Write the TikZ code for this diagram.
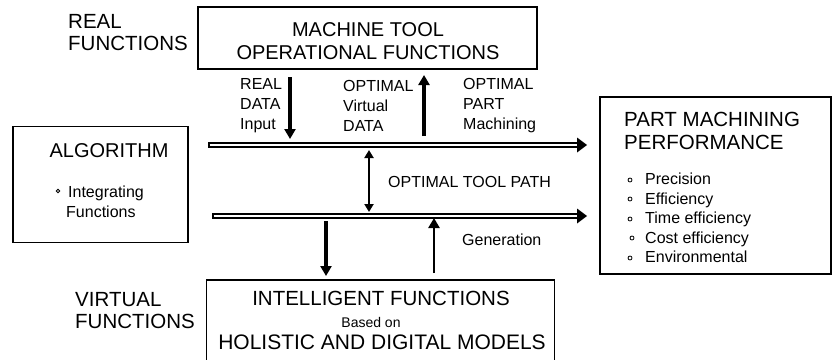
\documentclass[tikz,border=0pt]{standalone}
\usepackage{fontspec}
\setmainfont{Liberation Sans}
\usetikzlibrary{arrows.meta}
\begin{document}
\begin{tikzpicture}[x=1pt,y=-1pt,
  box/.style={draw, line width=1.2pt, inner sep=0pt},
  big/.style={font=\fontsize{20}{23}\selectfont, inner sep=0pt, align=center},
  bigl/.style={font=\fontsize{20.5}{22}\selectfont, inner sep=0pt, align=left, anchor=west},
  lab/.style={font=\fontsize{16}{20}\selectfont, inner sep=0pt, align=left, anchor=west},
  arr/.style={line width=3.2pt, -{Triangle[length=10pt,width=11pt]}},
  tarr/.style={line width=2.2pt, {Triangle[length=8pt,width=9pt]}-{Triangle[length=8pt,width=9pt]}},
  dblout/.style={line width=5.6pt, shorten >=9pt},
  dblin/.style={white, line width=1.8pt, shorten <=1.6pt, shorten >=9pt},
  bul/.style={circle, draw, line width=0.8pt, inner sep=0pt, minimum size=4pt}
]
\clip (0,0) rectangle (832,359);
\fill[white] (0,0) rectangle (832,359);

% boxes
\node[box, minimum width=339pt, minimum height=62pt] (mt) at (367.5,38) {};
\node[box, minimum width=175pt, minimum height=116pt] (alg) at (100.5,184.5) {};
\node[box, minimum width=231pt, minimum height=177pt] (pm) at (715.5,185.5) {};
\node[box, minimum width=348pt, minimum height=100pt] (ifb) at (380.5,330) {};

% texts
\node[bigl] (realf) at (68,33) {REAL\\FUNCTIONS};
\node[big] (mttext) at (368,41) {MACHINE TOOL\\OPERATIONAL FUNCTIONS};
\node[lab] (realdata) at (240,106) {REAL\\DATA\\Input};
\node[lab] (optvirt) at (343,106) {OPTIMAL\\Virtual\\DATA};
\node[lab] (optpart) at (463,106) {OPTIMAL\\PART\\Machining};
\node[font=\fontsize{20}{23}\selectfont, inner sep=0pt] (algt) at (109,151) {ALGORITHM};
\node[bul, minimum size=3.5pt] (b0) at (58,191) {};
\node[lab] (integ) at (66,202) {\hspace{2pt}Integrating\\Functions};
\node[lab] (otp) at (388,182) {OPTIMAL TOOL PATH};
\node[lab] (gen) at (462,240) {Generation};
\node[bigl] (virtf) at (75,311) {VIRTUAL\\FUNCTIONS};
\node[font=\fontsize{20.5}{23}\selectfont, inner sep=0pt] (ift) at (381,298) {INTELLIGENT FUNCTIONS};
\node[font=\fontsize{14}{16}\selectfont, inner sep=0pt] (based) at (371,322) {Based on};
\node[font=\fontsize{21}{23}\selectfont, inner sep=0pt] (hol) at (382,342) {HOLISTIC AND DIGITAL MODELS};
\node[bigl, font=\fontsize{20.5}{23.5}\selectfont] (pmt) at (624,131) {PART MACHINING\\PERFORMANCE};
\node[lab, font=\fontsize{16}{19.5}\selectfont] (list) at (645,218) {Precision\\Efficiency\\Time efficiency\\Cost efficiency\\Environmental};
\node[bul] (b1) at (630,180) {};
\node[bul] (b2) at (630,199) {};
\node[bul] (b3) at (630,219) {};
\node[bul] (b4) at (632,238) {};
\node[bul] (b5) at (630,258) {};

% coordinates
\coordinate (d1s) at (208,145);
\coordinate (d1e) at (587,145);
\coordinate (d2s) at (212,216);
\coordinate (d2e) at (587,216);
\coordinate (a1s) at (290,77);
\coordinate (a1e) at (290,139);
\coordinate (a2s) at (424,136);
\coordinate (a2e) at (424,75);
\coordinate (a3s) at (369,150);
\coordinate (a3e) at (369,212);
\coordinate (a4s) at (326,221);
\coordinate (a4e) at (326,276);
\coordinate (a5s) at (434,273);
\coordinate (a5e) at (434,218);

% connectors
\draw[dblout] (d1s) -- (d1e);
\draw[dblin] (d1s) -- (d1e);
\fill (d1e) -- ++(-10,-7.5) -- ++(0,15) -- cycle;
\draw[dblout] (d2s) -- (d2e);
\draw[dblin] (d2s) -- (d2e);
\fill (d2e) -- ++(-10,-7.5) -- ++(0,15) -- cycle;
\draw[arr] (a1s) -- (a1e);
\draw[arr] (a2s) -- (a2e);
\draw[tarr] (a3s) -- (a3e);
\draw[arr] (a4s) -- (a4e);
\draw[arr, line width=2.4pt] (a5s) -- (a5e);
\end{tikzpicture}
\end{document}
